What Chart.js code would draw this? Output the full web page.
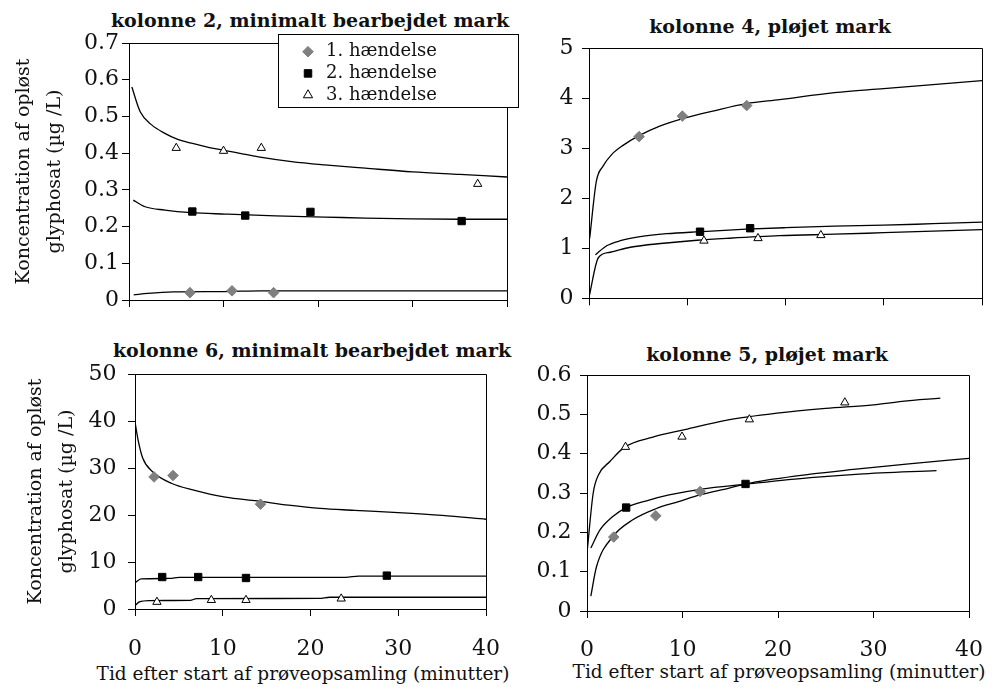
<!DOCTYPE html>
<html>
<head>
<meta charset="utf-8">
<script src="https://cdn.jsdelivr.net/npm/chart.js@4"></script>
<style>
    body { margin: 0; background: #fff; width: 1002px; height: 691px; position: relative; overflow: hidden;
           font-family: 'DejaVu Serif', serif; color: #111; }
    canvas { position: absolute; }
    .titel { position: absolute; width: 440px; text-align: center; font-weight: bold; font-size: 19px;
             line-height: 22px; white-space: nowrap; }
    .xtitel { position: absolute; width: 460px; text-align: center; font-size: 18.5px; line-height: 22px;
              white-space: nowrap; }
</style>
</head>
<body>
<div class="titel" style="left:90px; top:9px">kolonne 2, minimalt bearbejdet mark</div>
<div class="titel" style="left:550px; top:15px">kolonne 4, pløjet mark</div>
<div class="titel" style="left:92px; top:339px">kolonne 6, minimalt bearbejdet mark</div>
<div class="titel" style="left:547px; top:343px">kolonne 5, pløjet mark</div>
<div class="xtitel" style="left:73px; top:663px">Tid efter start af prøveopsamling (minutter)</div>
<div class="xtitel" style="left:549px; top:661px">Tid efter start af prøveopsamling (minutter)</div>

<canvas id="k2" width="520" height="320" style="left:0; top:0"></canvas>
<canvas id="k4" width="482" height="320" style="left:520px; top:0"></canvas>
<canvas id="k6" width="520" height="371" style="left:0; top:320px"></canvas>
<canvas id="k5" width="482" height="371" style="left:520px; top:320px"></canvas>

<script>
// Hændelser (legend)
const eventLabels = ['1. hændelse', '2. hændelse', '3. hændelse'];
const yTitleLines = ['Koncentration af opløst', 'glyphosat (µg /L)'];

// kolonne 2, minimalt bearbejdet mark - målte punkter
const k2Obs1X = [6.45, 10.9, 15.3];
const k2Obs1Y = [0.020, 0.025, 0.020];
const k2Obs2X = [6.7, 12.3, 19.2, 35.2];
const k2Obs2Y = [0.241, 0.230, 0.240, 0.215];
const k2Obs3X = [5.0, 10.0, 14.0, 36.9];
const k2Obs3Y = [0.414, 0.406, 0.414, 0.316];
// kolonne 2 - tilpassede kurver
const k2Fit1X = [0.5, 2, 4.7, 10, 14, 20, 30, 40];
const k2Fit1Y = [0.014, 0.018, 0.022, 0.023, 0.025, 0.025, 0.025, 0.025];
const k2Fit2X = [0.45, 1.7, 3.8, 6.6, 10.2, 15.5, 20.7, 25, 30, 35, 40];
const k2Fit2Y = [0.272, 0.254, 0.245, 0.238, 0.234, 0.229, 0.226, 0.223, 0.221, 0.220, 0.220];
const k2Fit3X = [0.3, 1.2, 2.4, 3.8, 5.1, 6.6, 8.5, 10.2, 12, 13.7, 17.2, 20.7, 25, 30, 35, 40];
const k2Fit3Y = [0.58, 0.512, 0.477, 0.454, 0.438, 0.427, 0.415, 0.407, 0.398, 0.39, 0.377, 0.368, 0.359, 0.349, 0.342, 0.335];

// kolonne 4, pløjet mark
const k4Obs1X = [5.1, 9.5, 16.05];
const k4Obs1Y = [3.23, 3.64, 3.85];
const k4Obs2X = [11.3, 16.4];
const k4Obs2Y = [1.33, 1.40];
const k4Obs3X = [11.7, 17.2, 23.6];
const k4Obs3Y = [1.15, 1.20, 1.26];
const k4Fit1X = [0.07, 0.75, 1.43, 2.3, 3.5, 5, 7.2, 9.9, 12.6, 16, 19.4, 25, 30, 35, 40];
const k4Fit1Y = [1.2, 2.34, 2.64, 2.87, 3.06, 3.24, 3.44, 3.61, 3.74, 3.89, 3.97, 4.11, 4.19, 4.27, 4.35];
const k4Fit2X = [0.65, 1.8, 3.2, 5.2, 7.9, 11.3, 16, 20, 25, 30, 35, 40];
const k4Fit2Y = [0.87, 1.05, 1.15, 1.23, 1.29, 1.33, 1.38, 1.41, 1.44, 1.46, 1.49, 1.52];
const k4Fit3X = [0, 0.95, 2.15, 4.2, 7.6, 11, 14.3, 19.4, 25, 30, 35, 40];
const k4Fit3Y = [0.02, 0.81, 0.92, 1.02, 1.10, 1.16, 1.20, 1.25, 1.28, 1.31, 1.34, 1.37];

// kolonne 6, minimalt bearbejdet mark
const k6Obs1X = [2.17, 4.33, 14.3];
const k6Obs1Y = [28.1, 28.4, 22.3];
const k6Obs2X = [3.1, 7.2, 12.65, 28.7];
const k6Obs2Y = [6.8, 6.8, 6.6, 7.1];
const k6Obs3X = [2.5, 8.7, 12.65, 23.5];
const k6Obs3Y = [1.5, 1.9, 1.9, 2.2];
const k6Fit1X = [0, 0.36, 0.9, 2, 4.2, 6.7, 10.3, 13.9, 17.5, 21.1, 25, 30, 35, 40];
const k6Fit1Y = [39.8, 35.9, 32.0, 29.2, 26.7, 25.3, 23.8, 23.0, 22.1, 21.4, 21.0, 20.5, 19.9, 19.1];
const k6Fit2X = [0, 0.7, 4, 5, 24, 25.5, 40];
const k6Fit2Y = [5.6, 6.4, 6.5, 6.75, 6.75, 7.0, 7.0];
const k6Fit3X = [0, 0.5, 1.6, 6.3, 7, 21, 22.2, 40];
const k6Fit3Y = [0.7, 1.5, 1.8, 1.85, 2.2, 2.25, 2.5, 2.5];

// kolonne 5, pløjet mark
const k5Obs1X = [2.8, 7.2, 11.85];
const k5Obs1Y = [0.188, 0.242, 0.304];
const k5Obs2X = [4.1, 16.6];
const k5Obs2Y = [0.263, 0.323];
const k5Obs3X = [4.03, 9.95, 17.0, 27.0];
const k5Obs3Y = [0.417, 0.443, 0.487, 0.53];
const k5Fit1X = [0.4, 1, 2.7, 4.8, 7.2, 9.6, 11.8, 14.8, 17.2, 23.4, 27.9, 33.7, 40];
const k5Fit1Y = [0.038, 0.113, 0.189, 0.232, 0.26, 0.278, 0.295, 0.312, 0.326, 0.348, 0.36, 0.374, 0.388];
const k5Fit2X = [0.4, 1.36, 2.7, 4.1, 6.5, 8.6, 12, 16.5, 23.4, 28.5, 36.6];
const k5Fit2Y = [0.16, 0.206, 0.24, 0.263, 0.282, 0.295, 0.31, 0.322, 0.339, 0.348, 0.357];
const k5Fit3X = [0.03, 0.65, 1.2, 2.4, 3.9, 6.9, 10, 14.8, 19.9, 25, 30, 33, 37];
const k5Fit3Y = [0.155, 0.30, 0.346, 0.38, 0.416, 0.442, 0.46, 0.486, 0.503, 0.515, 0.524, 0.533, 0.541];

Chart.defaults.font.family = "'DejaVu Serif', serif";
Chart.defaults.color = '#111';

const pts = (xs, ys) => xs.map((x, i) => ({ x: x, y: ys[i] }));

// Markører for de tre hændelser
const markers = [
    { pointStyle: 'rectRot', pointRadius: 5.3, backgroundColor: '#808080', borderColor: '#808080', borderWidth: 1 },
    { pointStyle: 'rect', pointRadius: 5.2, backgroundColor: '#000', borderColor: '#000', borderWidth: 1 },
    { pointStyle: 'triangle', pointRadius: 4.8, backgroundColor: '#fff', borderColor: '#000', borderWidth: 1 }
];

// Ramme (top/højre) og legendeboks
const rammePlugin = {
    id: 'ramme',
    beforeDraw(chart, args, opts) {
        const { ctx, chartArea: a } = chart;
        ctx.save();
        ctx.strokeStyle = '#000';
        ctx.lineWidth = 1;
        ctx.beginPath();
        ctx.moveTo(Math.round(a.left) + 0.5, Math.round(a.top) + 0.5);
        ctx.lineTo(Math.round(a.right) + 0.5, Math.round(a.top) + 0.5);
        ctx.lineTo(Math.round(a.right) + 0.5, Math.round(a.bottom) + 0.5);
        ctx.stroke();
        if (opts.box) {
            const b = opts.box;
            ctx.fillStyle = '#fff';
            ctx.fillRect(b.x, b.y, b.w, b.h);
            ctx.strokeRect(b.x + 0.5, b.y + 0.5, b.w, b.h);
        }
        ctx.restore();
    },
    afterLayout(chart, args, opts) {
        if (opts.box && chart.legend) {
            const lg = chart.legend;
            lg.left = opts.legendAt.x;
            lg.top = opts.legendAt.y;
            lg.right = lg.left + lg.width;
            lg.bottom = lg.top + lg.height;
        }
    }
};

function makePanel(p) {
    const datasets = [];
    p.obs.forEach((o, i) => {
        datasets.push(Object.assign({ label: eventLabels[i], data: pts(o[0], o[1]) }, markers[i]));
    });
    p.fits.forEach(f => {
        datasets.push({
            data: pts(f[0], f[1]), showLine: true, pointRadius: 0, borderColor: '#000',
            borderWidth: 1.3, cubicInterpolationMode: 'monotone', fill: false
        });
    });

    const axisGrid = { drawOnChartArea: false, drawTicks: true, tickLength: 7, color: '#000', lineWidth: 1 };
    const axisBorder = { display: true, color: '#000', width: 1 };

    return new Chart(document.getElementById(p.id), {
        type: 'scatter',
        data: { datasets: datasets },
        options: {
            responsive: false,
            animation: false,
            devicePixelRatio: 1,
            layout: { padding: p.padding },
            scales: {
                x: {
                    type: 'linear', min: 0, max: 40,
                    ticks: { stepSize: 10, display: p.xLabels, padding: p.xPad, font: { size: 22 } },
                    grid: axisGrid,
                    border: axisBorder,
                    afterFit: s => { s.height = p.xHeight; }
                },
                y: {
                    min: 0, max: p.yMax,
                    ticks: { stepSize: p.yStep, padding: p.yPad, font: { size: 22 } },
                    grid: axisGrid,
                    border: axisBorder,
                    title: p.yTitlePad === null ? { display: false } : {
                        display: true, text: yTitleLines, font: { size: 19, lineHeight: 1.65 },
                        padding: { top: p.yTitlePad, bottom: 0 }
                    },
                    afterFit: s => { s.width = p.yWidth; }
                }
            },
            plugins: {
                legend: {
                    display: !!p.box,
                    position: 'chartArea',
                    align: 'start',
                    labels: {
                        usePointStyle: true, boxWidth: 18, boxHeight: 7.5, padding: 3.7,
                        font: { size: 18 }, filter: item => !!item.text
                    }
                },
                tooltip: { enabled: false },
                ramme: { box: p.box, legendAt: p.legendAt }
            }
        },
        plugins: [rammePlugin]
    });
}

makePanel({
    id: 'k2', padding: { left: 0, right: 13, top: 43, bottom: 0 }, yWidth: 129, xHeight: 20,
    yMax: 0.7, yStep: 0.1, yPad: 3, xLabels: false, xPad: 0, yTitlePad: 8,
    box: { x: 278, y: 34, w: 240, h: 73 }, legendAt: { x: 295.3, y: 39 },
    obs: [[k2Obs1X, k2Obs1Y], [k2Obs2X, k2Obs2Y], [k2Obs3X, k2Obs3Y]],
    fits: [[k2Fit1X, k2Fit1Y], [k2Fit2X, k2Fit2Y], [k2Fit3X, k2Fit3Y]]
});

makePanel({
    id: 'k4', padding: { left: 0, right: 20, top: 48, bottom: 0 }, yWidth: 69, xHeight: 17,
    yMax: 5, yStep: 1, yPad: 8.5, xLabels: false, xPad: 0, yTitlePad: null,
    obs: [[k4Obs1X, k4Obs1Y], [k4Obs2X, k4Obs2Y], [k4Obs3X, k4Obs3Y]],
    fits: [[k4Fit1X, k4Fit1Y], [k4Fit2X, k4Fit2Y], [k4Fit3X, k4Fit3Y]]
});

makePanel({
    id: 'k6', padding: { left: 0, right: 16, top: 54, bottom: 0 }, yWidth: 135, xHeight: 82,
    yMax: 50, yStep: 10, yPad: 11.5, xLabels: true, xPad: 20, yTitlePad: 20,
    obs: [[k6Obs1X, k6Obs1Y], [k6Obs2X, k6Obs2Y], [k6Obs3X, k6Obs3Y]],
    fits: [[k6Fit1X, k6Fit1Y], [k6Fit2X, k6Fit2Y], [k6Fit3X, k6Fit3Y]]
});

makePanel({
    id: 'k5', padding: { left: 0, right: 28, top: 55, bottom: 0 }, yWidth: 67, xHeight: 80,
    yMax: 0.6, yStep: 0.1, yPad: 8.5, xLabels: true, xPad: 19, yTitlePad: null,
    obs: [[k5Obs1X, k5Obs1Y], [k5Obs2X, k5Obs2Y], [k5Obs3X, k5Obs3Y]],
    fits: [[k5Fit1X, k5Fit1Y], [k5Fit2X, k5Fit2Y], [k5Fit3X, k5Fit3Y]]
});
</script>
</body>
</html>
